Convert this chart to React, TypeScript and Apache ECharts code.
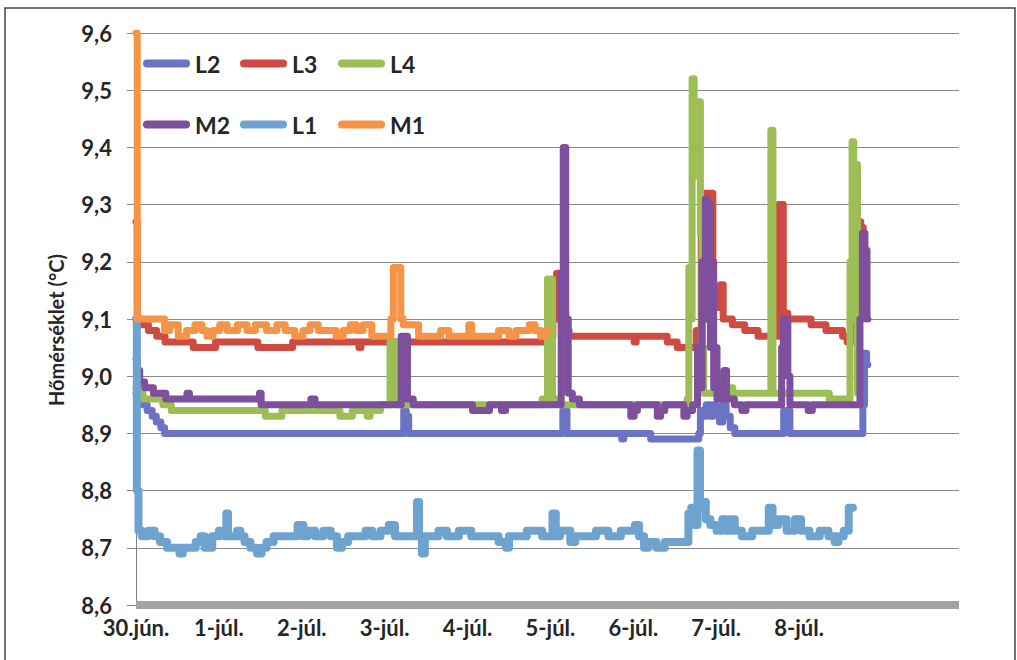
import React, { useEffect, useRef } from "react";
import * as echarts from "echarts";

// x = days since 30 June 00:00, y = temperature (°C)
const dayLabels = ["30.jún.", "1-júl.", "2-júl.", "3-júl.", "4-júl.", "5-júl.", "6-júl.", "7-júl.", "8-júl."];
const yTicks = [8.6, 8.7, 8.8, 8.9, 9.0, 9.1, 9.2, 9.3, 9.4, 9.5, 9.6];
const seriesNames = ["L2", "L3", "L4", "M2", "L1", "M1"];
const seriesColors = ["#6b73c5", "#cd4b43", "#9dbd55", "#7d4f9c", "#6fa3cf", "#f59446"];
const seriesWidths = [7, 7, 7, 7, 8, 7];

const l2Data: [number, number][] = [
  [0, 8.97], [0.05, 8.96], [0.1, 8.95], [0.17, 8.94], [0.22, 8.93], [0.27, 8.92], [0.33, 8.91], [0.36, 8.9],
  [3.22, 8.9], [3.24, 8.94], [3.28, 8.93], [3.3, 8.9],
  [5.14, 8.9], [5.16, 8.94], [5.19, 8.94], [5.21, 8.9],
  [5.85, 8.9], [5.87, 8.89], [5.9, 8.9], [6.2, 8.9], [6.22, 8.89], [6.78, 8.89],
  [6.8, 8.9], [6.82, 8.94], [6.86, 8.93], [6.9, 8.95], [6.94, 8.93], [6.98, 8.95], [7.02, 8.94], [7.06, 8.92],
  [7.1, 8.95], [7.14, 8.93], [7.2, 8.91], [7.25, 8.9],
  [7.8, 8.9], [7.83, 8.94], [7.88, 8.94], [7.9, 8.9],
  [8.76, 8.9], [8.78, 8.95], [8.8, 9.04], [8.83, 9.02],
];

const l3Data: [number, number][] = [
  [0, 9.27], [0.03, 9.1], [0.1, 9.09], [0.2, 9.08], [0.3, 9.07], [0.4, 9.06], [0.68, 9.06], [0.7, 9.05],
  [0.95, 9.05], [0.97, 9.06], [1.46, 9.06], [1.48, 9.05], [1.88, 9.05], [1.9, 9.06], [2.68, 9.06], [2.7, 9.05],
  [2.73, 9.06], [3.1, 9.06], [4.95, 9.06], [5.0, 9.07], [5.06, 9.1], [5.09, 9.18], [5.12, 9.12], [5.15, 9.08],
  [5.3, 9.07], [6.0, 9.07], [6.02, 9.06], [6.05, 9.07], [6.4, 9.07], [6.42, 9.06], [6.52, 9.06], [6.54, 9.05],
  [6.72, 9.05], [6.8, 9.08], [6.84, 9.32], [6.94, 9.32], [6.98, 9.15], [7.03, 9.12], [7.07, 9.16], [7.1, 9.1],
  [7.29, 9.09], [7.4, 9.08], [7.61, 9.07], [7.74, 9.07], [7.76, 9.3], [7.79, 9.3], [7.83, 9.11], [7.9, 9.1],
  [8.13, 9.1], [8.16, 9.09], [8.49, 9.08], [8.56, 9.07], [8.6, 9.06], [8.66, 9.07], [8.7, 9.12], [8.73, 9.27],
  [8.76, 9.26], [8.79, 9.2],
];

const l4Data: [number, number][] = [
  [0, 8.98], [0.05, 8.97], [0.12, 8.96], [0.3, 8.96], [0.35, 8.95], [0.5, 8.94], [1.55, 8.94], [1.57, 8.93],
  [1.75, 8.93], [1.77, 8.94], [2.45, 8.94], [2.47, 8.93], [2.6, 8.93], [2.62, 8.94], [2.78, 8.94], [2.8, 8.93],
  [2.85, 8.94], [3.05, 8.95], [3.08, 9.06], [3.13, 9.06], [3.16, 8.95], [4.85, 8.95], [4.95, 8.96], [4.98, 9.17],
  [5.01, 9.17], [5.04, 8.96], [5.2, 8.95], [6.64, 8.95], [6.66, 8.96], [6.68, 9.19], [6.7, 9.1], [6.72, 9.52],
  [6.75, 9.35], [6.78, 9.45], [6.8, 9.48], [6.82, 9.25], [6.84, 9.05], [6.86, 8.97], [6.95, 8.97], [7.15, 8.98],
  [7.25, 8.97], [7.65, 8.97], [7.67, 9.43], [7.7, 8.97], [8.35, 8.97], [8.38, 8.96], [8.6, 8.96], [8.63, 9.2],
  [8.65, 9.41], [8.67, 9.1], [8.69, 9.37], [8.72, 8.97],
];

const m2Data: [number, number][] = [
  [0, 9.03], [0.03, 9.01], [0.06, 8.99], [0.15, 8.98], [0.27, 8.97], [0.45, 8.96], [0.6, 8.96], [0.63, 8.97],
  [0.66, 8.96], [1.48, 8.96], [1.5, 8.97], [1.52, 8.95], [2.1, 8.95], [2.12, 8.96], [2.2, 8.95], [3.18, 8.95],
  [3.22, 9.07], [3.26, 9.07], [3.29, 8.96], [3.4, 8.95], [4.05, 8.95], [4.07, 8.94], [4.25, 8.94], [4.28, 8.95],
  [4.4, 8.95], [4.42, 8.94], [4.5, 8.95], [5.12, 8.95], [5.14, 9.18], [5.17, 9.4], [5.2, 9.1], [5.23, 8.97],
  [5.3, 8.96], [5.4, 8.95], [5.96, 8.95], [5.98, 8.93], [6.04, 8.94], [6.06, 8.95], [6.28, 8.95], [6.3, 8.93],
  [6.36, 8.94], [6.4, 8.95], [6.6, 8.95], [6.62, 8.93], [6.68, 8.94], [6.75, 8.95], [6.8, 9.05], [6.82, 8.98],
  [6.84, 9.2], [6.86, 9.1], [6.88, 9.31], [6.9, 9.25], [6.92, 9.3], [6.94, 9.05], [6.96, 9.2], [6.98, 8.98],
  [7.0, 9.05], [7.02, 8.96], [7.08, 8.96], [7.11, 9.01], [7.14, 8.96], [7.3, 8.95], [7.32, 8.94], [7.4, 8.95],
  [7.78, 8.95], [7.8, 9.05], [7.82, 9.1], [7.85, 9.1], [7.88, 9.0], [7.9, 8.95], [8.1, 8.95], [8.12, 8.94],
  [8.2, 8.95], [8.72, 8.95], [8.75, 9.1], [8.78, 9.25], [8.81, 9.22], [8.83, 9.1],
];

const l1Data: [number, number][] = [
  [0, 9.1], [0.02, 8.8], [0.04, 8.73], [0.1, 8.72], [0.2, 8.73], [0.25, 8.72], [0.33, 8.71], [0.42, 8.7],
  [0.5, 8.7], [0.55, 8.69], [0.58, 8.7], [0.69, 8.7], [0.75, 8.71], [0.81, 8.72], [0.85, 8.7], [0.89, 8.7],
  [0.95, 8.72], [1.05, 8.73], [1.08, 8.72], [1.1, 8.76], [1.12, 8.72], [1.2, 8.72], [1.24, 8.73], [1.28, 8.72],
  [1.34, 8.71], [1.42, 8.7], [1.5, 8.69], [1.53, 8.7], [1.62, 8.71], [1.7, 8.72], [1.9, 8.72], [2.0, 8.74],
  [2.04, 8.72], [2.1, 8.73], [2.22, 8.72], [2.3, 8.73], [2.4, 8.72], [2.45, 8.7], [2.52, 8.71], [2.6, 8.72],
  [2.74, 8.72], [2.8, 8.73], [2.9, 8.72], [3.0, 8.73], [3.1, 8.74], [3.15, 8.72], [3.38, 8.72], [3.4, 8.78],
  [3.43, 8.72], [3.47, 8.69], [3.5, 8.72], [3.6, 8.72], [3.7, 8.73], [3.8, 8.72], [3.99, 8.73], [4.1, 8.72],
  [4.3, 8.72], [4.45, 8.71], [4.48, 8.7], [4.52, 8.72], [4.63, 8.72], [4.8, 8.73], [5.0, 8.72], [5.05, 8.76],
  [5.08, 8.72], [5.15, 8.73], [5.2, 8.73], [5.28, 8.71], [5.32, 8.72], [5.5, 8.72], [5.6, 8.73], [5.8, 8.72],
  [5.9, 8.73], [6.0, 8.73], [6.04, 8.74], [6.1, 8.72], [6.16, 8.7], [6.2, 8.71], [6.36, 8.7], [6.4, 8.71],
  [6.65, 8.71], [6.68, 8.76], [6.72, 8.77], [6.76, 8.74], [6.79, 8.87], [6.82, 8.77], [6.85, 8.78], [6.9, 8.75],
  [6.96, 8.74], [7.05, 8.73], [7.1, 8.75], [7.15, 8.73], [7.2, 8.75], [7.25, 8.73], [7.37, 8.72], [7.5, 8.73],
  [7.61, 8.73], [7.66, 8.77], [7.7, 8.74], [7.8, 8.75], [7.9, 8.73], [8.0, 8.75], [8.05, 8.73], [8.2, 8.72],
  [8.3, 8.73], [8.41, 8.72], [8.45, 8.71], [8.5, 8.72], [8.58, 8.73], [8.62, 8.77], [8.65, 8.77],
];

const m1Data: [number, number][] = [
  [0, 9.6], [0.03, 9.1], [0.33, 9.1], [0.36, 9.08], [0.45, 9.09], [0.57, 9.07], [0.65, 9.08], [0.77, 9.09],
  [0.82, 9.08], [0.89, 9.07], [0.97, 9.08], [1.05, 9.09], [1.15, 9.08], [1.3, 9.09], [1.38, 9.08], [1.5, 9.09],
  [1.65, 9.08], [1.75, 9.09], [1.85, 9.08], [1.98, 9.07], [2.05, 9.08], [2.15, 9.09], [2.25, 9.08], [2.38, 9.08],
  [2.45, 9.07], [2.55, 9.08], [2.62, 9.09], [2.7, 9.08], [2.78, 9.09], [2.91, 9.07], [3.06, 9.07], [3.09, 9.1],
  [3.12, 9.19], [3.18, 9.19], [3.21, 9.1], [3.24, 9.09], [3.39, 9.09], [3.43, 9.07], [3.6, 9.07], [3.75, 9.08],
  [3.8, 9.07], [4.0, 9.07], [4.03, 9.09], [4.07, 9.07], [4.3, 9.07], [4.45, 9.08], [4.55, 9.07], [4.62, 9.08],
  [4.7, 9.08], [4.79, 9.09], [4.84, 9.08], [4.92, 9.07], [4.97, 9.08],
];

const allData = [l2Data, l3Data, l4Data, m2Data, l1Data, m1Data];
const legendSlots: [number, number][] = [
  [143, 52], [240, 52], [338, 52],
  [143, 113], [240, 113], [338, 113],
];

const FONT = "Lato, 'Open Sans', sans-serif";
const capsule = "path://M4,0 L43,0 A4,4 0 0 1 43,8 L4,8 A4,4 0 0 1 4,0 Z";

export default function App() {
  const ref = useRef<HTMLDivElement>(null);
  useEffect(() => {
    if (!ref.current) return;
    const chart = echarts.init(ref.current, undefined, { renderer: "svg" });
    chart.setOption({
      animation: false,
      backgroundColor: "#ffffff",
      grid: { left: 136, right: 58, top: 33, bottom: 55, containLabel: false },
      legend: seriesNames.map((name, i) => ({
        data: [name],
        left: legendSlots[i][0],
        top: legendSlots[i][1],
        padding: 0,
        itemWidth: 47,
        itemHeight: 8,
        icon: capsule,
        selectedMode: false,
        textStyle: { fontFamily: FONT, fontWeight: "bold", fontSize: 23, color: "#262626" },
      })),
      xAxis: {
        type: "value",
        min: 0,
        max: 9.93,
        interval: 1,
        axisLine: { show: true, lineStyle: { color: "#a3a3a3", width: 8, cap: "butt" } },
        axisTick: { show: false },
        splitLine: { show: false },
        axisLabel: {
          margin: 11,
          showMaxLabel: false,
          fontFamily: FONT,
          fontWeight: "bold",
          fontSize: 22,
          color: "#262626",
          formatter: (v: number) => {
            const i = Math.round(v);
            return Math.abs(v - i) < 1e-6 && dayLabels[i] ? dayLabels[i] : "";
          },
        },
      },
      yAxis: {
        type: "value",
        min: yTicks[0],
        max: yTicks[yTicks.length - 1],
        interval: 0.1,
        axisLine: { show: true, lineStyle: { color: "#808080", width: 1 } },
        axisTick: { show: true, length: 9, lineStyle: { color: "#8a8a8a" } },
        splitLine: { show: true, lineStyle: { color: "#8a8a8a", width: 1 } },
        axisLabel: {
          margin: 24,
          fontFamily: FONT,
          fontWeight: "bold",
          fontSize: 22,
          color: "#262626",
          formatter: (v: number) => v.toFixed(1).replace(".", ","),
        },
      },
      graphic: [
        {
          type: "rect",
          shape: { x: 5, y: 8, width: 1010, height: 700 },
          style: { fill: "none", stroke: "#444444", lineWidth: 1.5 },
          silent: true,
          z: -10,
        },
        {
          type: "text",
          x: 56,
          y: 330,
          rotation: Math.PI / 2,
          style: {
            text: "Hőmérséklet (°C)",
            fontFamily: FONT,
            fontWeight: "bold",
            fontSize: 20,
            fill: "#262626",
            textAlign: "center",
            textVerticalAlign: "middle",
          },
        },
      ],
      series: seriesNames.map((name, i) => ({
        name,
        type: "line",
        data: allData[i],
        step: "middle",
        showSymbol: false,
        symbol: "none",
        color: seriesColors[i],
        lineStyle: { width: seriesWidths[i], color: seriesColors[i], cap: "round", join: "round" },
        z: 2 + i,
      })),
    });
    return () => chart.dispose();
  }, []);
  return (
    <div
      ref={ref}
      style={{ position: "absolute", left: 0, top: 0, width: 1017, height: 660 }}
    />
  );
}
